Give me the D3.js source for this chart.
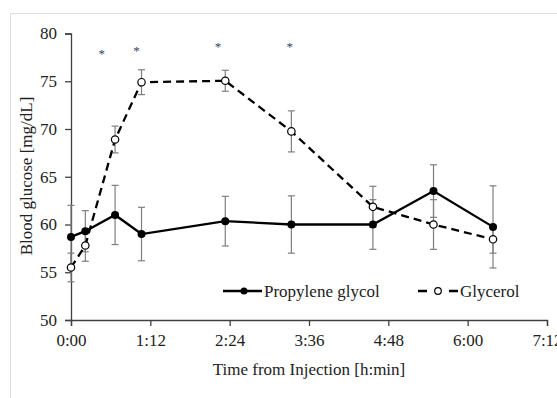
<!DOCTYPE html>
<html>
<head>
<meta charset="utf-8">
<script src="https://cdn.jsdelivr.net/npm/d3@7"></script>
<style>
  body { margin: 0; background: #fff; }
  svg { font-family: "Liberation Serif", "Times New Roman", serif; }
</style>
</head>
<body>
<svg id="chart" width="557" height="398"></svg>
<script>
// time from injection, minutes
var times = [0, 13, 40, 64, 140, 200, 274, 329, 383];

// propylene glycol mean / error
var pgMean = [58.7, 59.3, 61.0, 59.0, 60.35, 60.0, 60.0, 63.5, 59.75];
var pgErr  = [3.3, 2.15, 3.1, 2.8, 2.6, 3.0, 2.6, 2.75, 4.3];

// glycerol mean / error
var glMean = [55.5, 57.8, 68.9, 74.9, 75.05, 69.75, 61.85, 60.0, 58.45];
var glErr  = [1.5, 1.65, 1.4, 1.3, 1.1, 2.15, 2.15, 2.6, 1.45];

// significance marks
var starTimes  = [28, 59.5, 133.5, 198.5];
var starValues = [78.05, 78.4, 78.75, 78.75];

var xTicks = [0, 72, 144, 216, 288, 360, 432];
var yTicks = [50, 55, 60, 65, 70, 75, 80];

var svg = d3.select("#chart");

// light frame around the figure
svg.append("rect")
    .attr("x", 10.5).attr("y", 13.5)
    .attr("width", 560).attr("height", 400)
    .attr("fill", "none")
    .attr("stroke", "#dcdcdc");

var x = d3.scaleLinear().domain([0, 432]).range([71, 547]);
var y = d3.scaleLinear().domain([50, 80]).range([320, 33.5]);

var fmtTime = function(m) {
  var h = Math.floor(m / 60), mm = m % 60;
  return h + ":" + (mm < 10 ? "0" : "") + mm;
};

// x axis
var gx = svg.append("g")
    .attr("transform", "translate(0," + y(50) + ")")
    .call(d3.axisBottom(x).tickValues(xTicks).tickFormat(fmtTime).tickSize(6).tickPadding(8));

// y axis
var gy = svg.append("g")
    .attr("transform", "translate(" + x(0) + ",0)")
    .call(d3.axisLeft(y).tickValues(yTicks).tickSize(6).tickPadding(8));

[gx, gy].forEach(function(g) {
  g.selectAll("path, line").attr("stroke", "#404040").attr("stroke-width", 1.3);
  g.selectAll("text")
      .attr("fill", "#222")
      .style("font-size", "17px")
      .style("font-family", "Liberation Serif, serif");
});

// axis titles
svg.append("text")
    .attr("x", 309).attr("y", 375)
    .attr("text-anchor", "middle")
    .attr("fill", "#222")
    .style("font-size", "17px")
    .text("Time from Injection [h:min]");

svg.append("text")
    .attr("transform", "translate(32,176) rotate(-90)")
    .attr("text-anchor", "middle")
    .attr("fill", "#222")
    .style("font-size", "17px")
    .text("Blood glucose [mg/dL]");

function series(means, errs) {
  return times.map(function(t, i) { return {t: t, v: means[i], e: errs[i]}; });
}
var pg = series(pgMean, pgErr);
var gl = series(glMean, glErr);

function errorBars(data) {
  var g = svg.append("g").attr("stroke", "#7f7f7f").attr("stroke-width", 1.2);
  g.selectAll(".v").data(data).enter().append("line")
      .attr("x1", function(d) { return x(d.t); })
      .attr("x2", function(d) { return x(d.t); })
      .attr("y1", function(d) { return y(d.v + d.e); })
      .attr("y2", function(d) { return y(d.v - d.e); });
  [1, -1].forEach(function(s) {
    g.selectAll(".c" + s).data(data).enter().append("line")
        .attr("x1", function(d) { return x(d.t) - 3.5; })
        .attr("x2", function(d) { return x(d.t) + 3.5; })
        .attr("y1", function(d) { return y(d.v + s * d.e); })
        .attr("y2", function(d) { return y(d.v + s * d.e); });
  });
}
errorBars(pg);
errorBars(gl);

var line = d3.line()
    .x(function(d) { return x(d.t); })
    .y(function(d) { return y(d.v); });

// glycerol dashed line
svg.append("path")
    .datum(gl)
    .attr("fill", "none")
    .attr("stroke", "#000")
    .attr("stroke-width", 2.3)
    .attr("stroke-dasharray", "8,5")
    .attr("d", line);

// propylene glycol solid line
svg.append("path")
    .datum(pg)
    .attr("fill", "none")
    .attr("stroke", "#000")
    .attr("stroke-width", 2.3)
    .attr("d", line);

svg.append("g").selectAll("circle").data(pg).enter().append("circle")
    .attr("cx", function(d) { return x(d.t); })
    .attr("cy", function(d) { return y(d.v); })
    .attr("r", 4)
    .attr("fill", "#000");

svg.append("g").selectAll("circle").data(gl).enter().append("circle")
    .attr("cx", function(d) { return x(d.t); })
    .attr("cy", function(d) { return y(d.v); })
    .attr("r", 3.7)
    .attr("fill", "#fff")
    .attr("stroke", "#000")
    .attr("stroke-width", 1.2);

// asterisks
svg.append("g").selectAll("text").data(starTimes).enter().append("text")
    .attr("x", function(d) { return x(d); })
    .attr("y", function(d, i) { return y(starValues[i]) + 6; })
    .attr("text-anchor", "middle")
    .attr("fill", "#2f4660")
    .style("font-size", "13px")
    .text("*");

// legend
var lg = svg.append("g");
lg.append("line").attr("x1", 223).attr("x2", 262).attr("y1", 291).attr("y2", 291)
    .attr("stroke", "#000").attr("stroke-width", 2.3);
lg.append("circle").attr("cx", 244).attr("cy", 291).attr("r", 3.5).attr("fill", "#000");
lg.append("text").attr("x", 264).attr("y", 296.5).attr("fill", "#222")
    .style("font-size", "17px").text("Propylene glycol");

lg.append("line").attr("x1", 418).attr("x2", 458).attr("y1", 291).attr("y2", 291)
    .attr("stroke", "#000").attr("stroke-width", 2.3).attr("stroke-dasharray", "9,22");
lg.append("circle").attr("cx", 438).attr("cy", 291).attr("r", 3.3)
    .attr("fill", "#fff").attr("stroke", "#000").attr("stroke-width", 1.2);
lg.append("text").attr("x", 460).attr("y", 296.5).attr("fill", "#222")
    .style("font-size", "17px").text("Glycerol");
</script>
</body>
</html>
